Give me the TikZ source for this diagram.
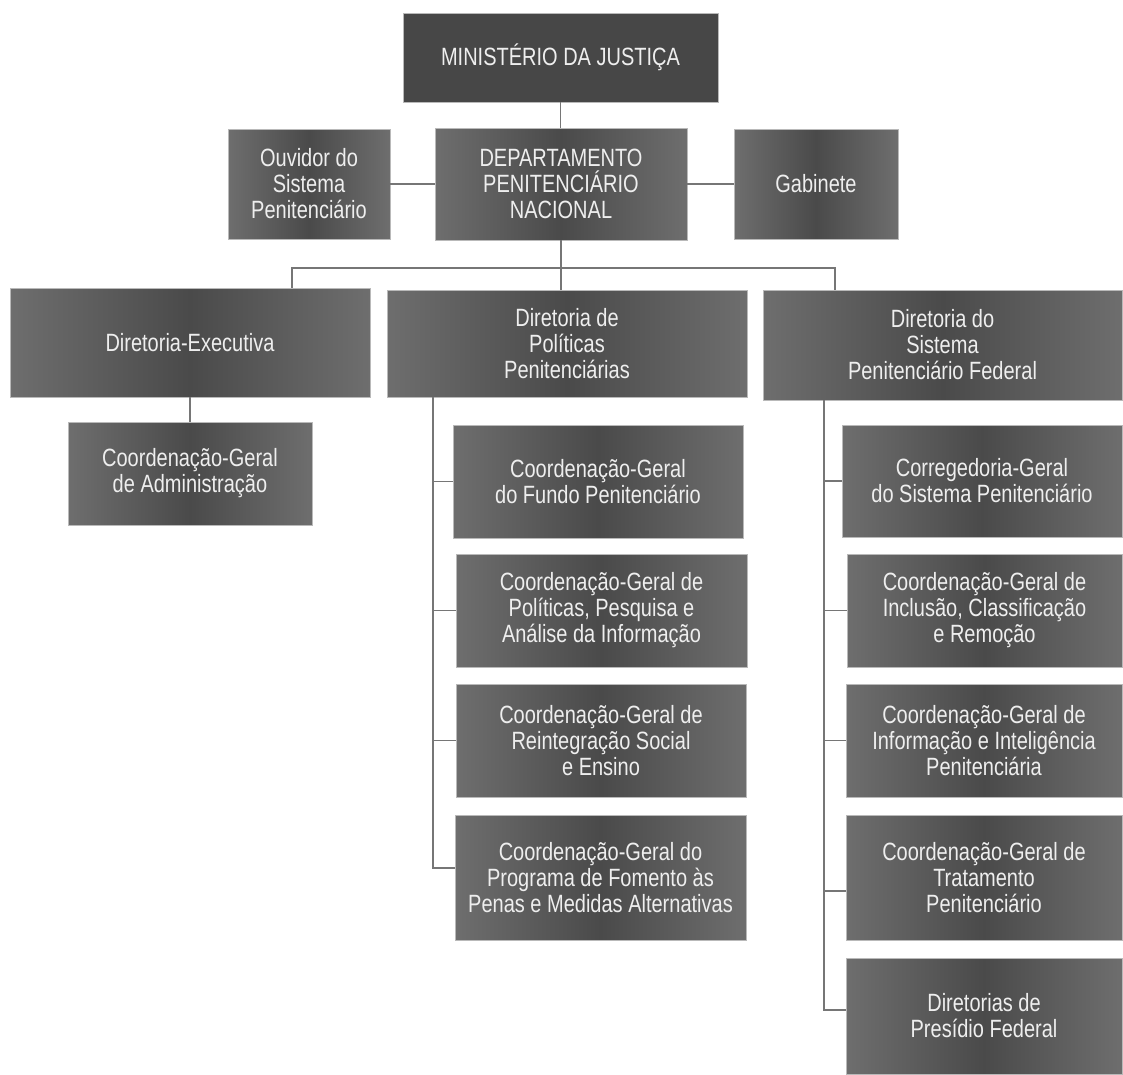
\documentclass[tikz,border=0pt]{standalone}
\usepackage{fontspec}
\setmainfont{Liberation Sans}[FakeStretch=0.8]
\definecolor{edgec}{HTML}{6E6E6E}
\definecolor{midc}{HTML}{4A4A4A}
\definecolor{topc}{HTML}{474747}
\definecolor{linec}{HTML}{767676}
\definecolor{txtc}{HTML}{EEEEEE}
\tikzset{
  boxbase/.style={draw=gray!55, line width=0.7pt, text=txtc, align=center,
    font=\fontsize{25}{26}\selectfont, inner sep=0pt},
  box/.style={boxbase, left color=edgec, right color=edgec, middle color=midc},
  topbox/.style={boxbase, fill=topc},
  conn/.style={draw=linec, line width=1.9pt}
}
\begin{document}
\begin{tikzpicture}[x=1pt,y=-1pt]
\useasboundingbox[fill=white] (0,0) rectangle (1123,1074);

% top levels
\node[topbox, minimum width=315pt, minimum height=89pt] (min) at (560.5,57.5) {MINISTÉRIO DA JUSTIÇA};
\node[box, minimum width=162pt, minimum height=110pt] (ouv) at (309,184) {Ouvidor do\\Sistema\\Penitenciário};
\node[box, minimum width=252pt, minimum height=112pt] (dep) at (561,184) {DEPARTAMENTO\\PENITENCIÁRIO\\NACIONAL};
\node[box, minimum width=164pt, minimum height=110pt] (gab) at (816,184) {Gabinete};

% directorates
\node[box, minimum width=360pt, minimum height=109pt] (de) at (190,342.5) {Diretoria-Executiva};
\node[box, minimum width=360pt, minimum height=107pt] (dp) at (567,343.5) {Diretoria de\\Políticas\\Penitenciárias};
\node[box, minimum width=359pt, minimum height=110pt] (ds) at (942.5,345) {Diretoria do\\Sistema\\Penitenciário Federal};

% left column
\node[box, minimum width=244pt, minimum height=103pt] (cga) at (190,473.5) {Coordenação-Geral\\de Administração};

% middle column
\node[box, minimum width=290pt, minimum height=113pt] (cgf) at (598,481.5) {Coordenação-Geral\\do Fundo Penitenciário};
\node[box, minimum width=291pt, minimum height=113pt] (cgp) at (601.5,610.5) {Coordenação-Geral de\\Políticas, Pesquisa e\\Análise da Informação};
\node[box, minimum width=290pt, minimum height=113pt] (cgr) at (601,740.5) {Coordenação-Geral de\\Reintegração Social\\e Ensino};
\node[box, minimum width=291pt, minimum height=125pt] (cgpf) at (600.5,877.5) {Coordenação-Geral do\\Programa de Fomento às\\Penas e Medidas Alternativas};

% right column
\node[box, minimum width=280pt, minimum height=112pt] (cor) at (982,481) {Corregedoria-Geral\\do Sistema Penitenciário};
\node[box, minimum width=275pt, minimum height=113pt] (cgi) at (984.5,610.5) {Coordenação-Geral de\\Inclusão, Classificação\\e Remoção};
\node[box, minimum width=276pt, minimum height=113pt] (cgin) at (984,740.5) {Coordenação-Geral de\\Informação e Inteligência\\Penitenciária};
\node[box, minimum width=276pt, minimum height=125pt] (cgt) at (984,877.5) {Coordenação-Geral de\\Tratamento\\Penitenciário};
\node[box, minimum width=276pt, minimum height=116pt] (dpf) at (984,1016) {Diretorias de\\Presídio Federal};

% connectors
\draw[conn] (min.south) -- (min.south |- dep.north);
\draw[conn] (ouv) -- (dep);
\draw[conn] (dep) -- (gab);
\draw[conn] (dep.south) -- (dep.south |- dp.north);
\coordinate (busL) at (292,268);
\coordinate (busR) at (835,268);
\draw[conn] (busL |- de.north) -- (busL) -- (busR) -- (busR |- ds.north);
\draw[conn] (de) -- (cga);

\coordinate (mv) at (433,0);
\coordinate (mend) at (455,868);
\draw[conn] (mv |- dp.south) -- (mv |- mend) -- (mend);
\draw[conn] (mv |- cgf.west) -- (cgf.west);
\draw[conn] (mv |- cgp.west) -- (cgp.west);
\draw[conn] (mv |- cgr.west) -- (cgr.west);

\coordinate (rv) at (824,0);
\coordinate (tB) at (846,891);
\coordinate (pB) at (846,1010);
\draw[conn] (rv |- ds.south) -- (rv |- pB) -- (pB);
\draw[conn] (rv |- cor.west) -- (cor.west);
\draw[conn] (rv |- cgi.west) -- (cgi.west);
\draw[conn] (rv |- cgin.west) -- (cgin.west);
\draw[conn] (rv |- tB) -- (tB);
\end{tikzpicture}
\end{document}
